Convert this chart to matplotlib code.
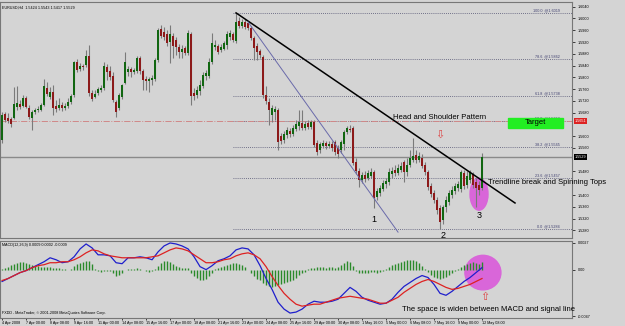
import matplotlib
matplotlib.use("Agg")
import matplotlib.pyplot as plt
from matplotlib.patches import Rectangle, Ellipse
import numpy as np

plt.rcParams['font.family'] = ['Liberation Sans', 'DejaVu Sans']

# EURUSD H4 candles
opens = [1.5587, 1.5675, 1.5662, 1.5658, 1.5662, 1.5699, 1.5709, 1.5703, 1.5730, 1.5696,
         1.5662, 1.5682, 1.5689, 1.5689, 1.5706, 1.5764, 1.5733, 1.5750, 1.5703, 1.5696,
         1.5706, 1.5696, 1.5703, 1.5716, 1.5740, 1.5852, 1.5828, 1.5839, 1.5842, 1.5873,
         1.5747, 1.5733, 1.5747, 1.5757, 1.5764, 1.5835, 1.5822, 1.5805, 1.5716, 1.5696,
         1.5733, 1.5781, 1.5818, 1.5828, 1.5818, 1.5822, 1.5866, 1.5822, 1.5794, 1.5788,
         1.5791, 1.5794, 1.5859, 1.5964, 1.5954, 1.5947, 1.5920, 1.5941, 1.5927, 1.5903,
         1.5886, 1.5900, 1.5883, 1.5947, 1.5747, 1.5740, 1.5754, 1.5771, 1.5805, 1.5805,
         1.5852, 1.5903, 1.5907, 1.5893, 1.5896, 1.5910, 1.5937, 1.5947, 1.5924, 1.5992,
         1.5975, 1.5988, 1.5985, 1.5968, 1.5934, 1.5907, 1.5890, 1.5869, 1.5740, 1.5716,
         1.5672, 1.5682, 1.5689, 1.5601, 1.5587, 1.5604, 1.5618, 1.5607, 1.5624, 1.5635,
         1.5645, 1.5628, 1.5645, 1.5631, 1.5648, 1.5577, 1.5553, 1.5567, 1.5577, 1.5567,
         1.5573, 1.5580, 1.5560, 1.5553, 1.5573, 1.5614, 1.5624, 1.5628, 1.5512, 1.5482,
         1.5451, 1.5468, 1.5458, 1.5465, 1.5478, 1.5393, 1.5407, 1.5420, 1.5437, 1.5444,
         1.5471, 1.5485, 1.5475, 1.5485, 1.5512, 1.5478, 1.5502, 1.5519, 1.5536, 1.5519,
         1.5526, 1.5502, 1.5478, 1.5431, 1.5407, 1.5383, 1.5356, 1.5315, 1.5359, 1.5376,
         1.5400, 1.5414, 1.5424, 1.5420, 1.5475, 1.5434, 1.5451, 1.5471, 1.5444, 1.5434,
         1.5424]
highs = [1.5682, 1.5682, 1.5679, 1.5665, 1.5767, 1.5771, 1.5723, 1.5740, 1.5737, 1.5706,
         1.5689, 1.5696, 1.5703, 1.5713, 1.5794, 1.5784, 1.5767, 1.5774, 1.5723, 1.5730,
         1.5716, 1.5713, 1.5730, 1.5743, 1.5856, 1.5862, 1.5849, 1.5845, 1.5893, 1.5910,
         1.5757, 1.5757, 1.5767, 1.5774, 1.5852, 1.5845, 1.5839, 1.5818, 1.5723, 1.5747,
         1.5777, 1.5886, 1.5839, 1.5835, 1.5832, 1.5873, 1.5873, 1.5828, 1.5805, 1.5801,
         1.5808, 1.5866, 1.5968, 1.5978, 1.5971, 1.5961, 1.5978, 1.5951, 1.5937, 1.5913,
         1.5910, 1.5907, 1.5961, 1.5954, 1.5764, 1.5771, 1.5791, 1.5818, 1.5825, 1.5866,
         1.5951, 1.5927, 1.5913, 1.5913, 1.5924, 1.5958, 1.5961, 1.5954, 1.6019, 1.6005,
         1.5998, 1.5998, 1.5992, 1.5975, 1.5941, 1.5917, 1.5896, 1.5876, 1.5771, 1.5730,
         1.5706, 1.5703, 1.5696, 1.5611, 1.5618, 1.5631, 1.5628, 1.5638, 1.5655, 1.5689,
         1.5689, 1.5652, 1.5655, 1.5655, 1.5655, 1.5587, 1.5580, 1.5587, 1.5584, 1.5584,
         1.5584, 1.5587, 1.5570, 1.5587, 1.5621, 1.5635, 1.5638, 1.5635, 1.5526, 1.5492,
         1.5478, 1.5482, 1.5485, 1.5492, 1.5485, 1.5424, 1.5434, 1.5451, 1.5458, 1.5492,
         1.5495, 1.5502, 1.5505, 1.5512, 1.5519, 1.5526, 1.5553, 1.5594, 1.5553, 1.5546,
         1.5539, 1.5512, 1.5485, 1.5441, 1.5417, 1.5393, 1.5366, 1.5366, 1.5397, 1.5417,
         1.5431, 1.5441, 1.5448, 1.5485, 1.5485, 1.5482, 1.5485, 1.5478, 1.5458, 1.5448,
         1.5543]
lows = [1.5577, 1.5648, 1.5645, 1.5631, 1.5658, 1.5689, 1.5692, 1.5699, 1.5696, 1.5658,
        1.5621, 1.5675, 1.5682, 1.5686, 1.5703, 1.5737, 1.5726, 1.5672, 1.5682, 1.5689,
        1.5686, 1.5689, 1.5696, 1.5709, 1.5733, 1.5818, 1.5822, 1.5825, 1.5835, 1.5737,
        1.5720, 1.5730, 1.5740, 1.5750, 1.5757, 1.5791, 1.5791, 1.5716, 1.5665, 1.5689,
        1.5726, 1.5777, 1.5805, 1.5801, 1.5811, 1.5815, 1.5811, 1.5757, 1.5757, 1.5750,
        1.5774, 1.5788, 1.5852, 1.5934, 1.5927, 1.5907, 1.5849, 1.5866, 1.5876, 1.5866,
        1.5866, 1.5876, 1.5876, 1.5706, 1.5723, 1.5730, 1.5740, 1.5764, 1.5791, 1.5798,
        1.5845, 1.5893, 1.5879, 1.5886, 1.5893, 1.5896, 1.5927, 1.5920, 1.5917, 1.5968,
        1.5968, 1.5964, 1.5961, 1.5927, 1.5859, 1.5859, 1.5866, 1.5730, 1.5709, 1.5638,
        1.5648, 1.5655, 1.5553, 1.5573, 1.5577, 1.5594, 1.5597, 1.5601, 1.5618, 1.5621,
        1.5621, 1.5621, 1.5624, 1.5624, 1.5563, 1.5536, 1.5543, 1.5560, 1.5556, 1.5560,
        1.5550, 1.5536, 1.5526, 1.5543, 1.5553, 1.5607, 1.5614, 1.5502, 1.5471, 1.5427,
        1.5441, 1.5444, 1.5451, 1.5458, 1.5356, 1.5383, 1.5397, 1.5414, 1.5424, 1.5434,
        1.5458, 1.5465, 1.5468, 1.5478, 1.5444, 1.5465, 1.5495, 1.5512, 1.5509, 1.5512,
        1.5492, 1.5468, 1.5417, 1.5393, 1.5373, 1.5335, 1.5284, 1.5301, 1.5342, 1.5366,
        1.5390, 1.5403, 1.5414, 1.5410, 1.5420, 1.5424, 1.5441, 1.5424, 1.5359, 1.5400,
        1.5417]
closes = [1.5672, 1.5655, 1.5652, 1.5641, 1.5709, 1.5713, 1.5699, 1.5730, 1.5699, 1.5665,
          1.5682, 1.5689, 1.5692, 1.5706, 1.5771, 1.5743, 1.5750, 1.5696, 1.5692, 1.5706,
          1.5696, 1.5703, 1.5716, 1.5737, 1.5852, 1.5825, 1.5839, 1.5835, 1.5873, 1.5747,
          1.5726, 1.5743, 1.5760, 1.5764, 1.5839, 1.5818, 1.5801, 1.5723, 1.5682, 1.5740,
          1.5774, 1.5852, 1.5828, 1.5818, 1.5825, 1.5866, 1.5822, 1.5791, 1.5788, 1.5794,
          1.5798, 1.5859, 1.5961, 1.5941, 1.5937, 1.5917, 1.5947, 1.5907, 1.5903, 1.5886,
          1.5896, 1.5883, 1.5951, 1.5737, 1.5737, 1.5757, 1.5774, 1.5808, 1.5815, 1.5852,
          1.5917, 1.5910, 1.5886, 1.5903, 1.5917, 1.5947, 1.5951, 1.5927, 1.5988, 1.5975,
          1.5988, 1.5971, 1.5968, 1.5934, 1.5900, 1.5886, 1.5876, 1.5740, 1.5720, 1.5689,
          1.5696, 1.5692, 1.5580, 1.5584, 1.5607, 1.5621, 1.5607, 1.5628, 1.5641, 1.5648,
          1.5628, 1.5641, 1.5631, 1.5648, 1.5570, 1.5546, 1.5573, 1.5577, 1.5567, 1.5573,
          1.5560, 1.5546, 1.5539, 1.5580, 1.5614, 1.5628, 1.5621, 1.5509, 1.5482, 1.5451,
          1.5468, 1.5454, 1.5475, 1.5478, 1.5390, 1.5414, 1.5424, 1.5441, 1.5448, 1.5478,
          1.5482, 1.5475, 1.5492, 1.5499, 1.5478, 1.5502, 1.5526, 1.5533, 1.5519, 1.5533,
          1.5499, 1.5478, 1.5427, 1.5403, 1.5383, 1.5349, 1.5308, 1.5359, 1.5383, 1.5407,
          1.5417, 1.5431, 1.5437, 1.5478, 1.5431, 1.5465, 1.5478, 1.5434, 1.5424, 1.5417,
          1.5529]

# MACD(12,26,9) read every second bar
macd_line = [-0.0012, -0.0009, -0.0006, -0.0003, -0.0001, 0.0002, 0.0005, 0.0008, 0.0012, 0.0010,
             0.0007, 0.0008, 0.0013, 0.0021, 0.0026, 0.0022, 0.0015, 0.0015, 0.0014, 0.0007,
             0.0006, 0.0012, 0.0012, 0.0013, 0.0012, 0.0010, 0.0018, 0.0024, 0.0027, 0.0026,
             0.0024, 0.0021, 0.0013, 0.0003, 0.0000, 0.0004, 0.0009, 0.0011, 0.0014, 0.0020,
             0.0022, 0.0021, 0.0015, 0.0004, -0.0009, -0.0020, -0.0033, -0.0040, -0.0044, -0.0043,
             -0.0040, -0.0035, -0.0032, -0.0033, -0.0033, -0.0032, -0.0030, -0.0024, -0.0018, -0.0022,
             -0.0028, -0.0031, -0.0033, -0.0035, -0.0034, -0.0030, -0.0023, -0.0017, -0.0013, -0.0009,
             -0.0006, -0.0008, -0.0015, -0.0024, -0.0026, -0.0022, -0.0017, -0.0012, -0.0008, -0.0003,
             0.0002]
signal_line = [-0.0011, -0.0009, -0.0006, -0.0003, -0.0001, 0.0002, 0.0004, 0.0005, 0.0007, 0.0007,
               0.0008, 0.0008, 0.0010, 0.0013, 0.0017, 0.0020, 0.0019, 0.0016, 0.0014, 0.0013,
               0.0012, 0.0012, 0.0012, 0.0012, 0.0012, 0.0013, 0.0014, 0.0017, 0.0020, 0.0022,
               0.0021, 0.0019, 0.0015, 0.0011, 0.0007, 0.0007, 0.0008, 0.0010, 0.0011, 0.0014,
               0.0016, 0.0017, 0.0015, 0.0011, 0.0003, -0.0007, -0.0016, -0.0024, -0.0030, -0.0035,
               -0.0037, -0.0036, -0.0035, -0.0035, -0.0033, -0.0031, -0.0029, -0.0028, -0.0027, -0.0028,
               -0.0029, -0.0030, -0.0032, -0.0034, -0.0034, -0.0031, -0.0028, -0.0023, -0.0019, -0.0015,
               -0.0012, -0.0010, -0.0012, -0.0015, -0.0018, -0.0020, -0.0019, -0.0017, -0.0015, -0.0012,
               -0.0009]
osma = [0.0001, 0.0002, 0.0003, 0.0005, 0.0006, 0.0007, 0.0008, 0.0008, 0.0007, 0.0006,
        0.0005, 0.0004, 0.0004, 0.0003, 0.0003, 0.0003, 0.0003, 0.0002, 0.0002, 0.0002,
        0.0001, 0.0001, 0.0000, 0.0001, 0.0004, 0.0006, 0.0007, 0.0008, 0.0009, 0.0009,
        0.0006, 0.0001, -0.0001, -0.0002, -0.0001, -0.0001, -0.0001, -0.0003, -0.0006, -0.0005,
        -0.0003, 0.0000, 0.0001, 0.0001, 0.0001, 0.0002, 0.0001, 0.0000, -0.0001, -0.0002,
        -0.0001, 0.0001, 0.0004, 0.0007, 0.0009, 0.0009, 0.0008, 0.0006, 0.0004, 0.0003,
        0.0002, 0.0002, 0.0002, -0.0003, -0.0006, -0.0008, -0.0010, -0.0010, -0.0009, -0.0006,
        -0.0003, 0.0001, 0.0002, 0.0003, 0.0004, 0.0005, 0.0006, 0.0007, 0.0007, 0.0006,
        0.0005, 0.0003, 0.0000, -0.0003, -0.0006, -0.0009, -0.0011, -0.0014, -0.0016, -0.0017,
        -0.0018, -0.0017, -0.0016, -0.0015, -0.0014, -0.0013, -0.0012, -0.0010, -0.0008, -0.0005,
        -0.0003, -0.0002, 0.0001, 0.0002, 0.0002, 0.0003, 0.0003, 0.0003, 0.0002, 0.0003,
        0.0003, 0.0002, 0.0003, 0.0005, 0.0007, 0.0009, 0.0008, 0.0004, -0.0001, -0.0003,
        -0.0003, -0.0003, -0.0003, -0.0002, -0.0002, -0.0003, -0.0002, -0.0001, 0.0001, 0.0003,
        0.0005, 0.0006, 0.0007, 0.0008, 0.0009, 0.0010, 0.0010, 0.0010, 0.0009, 0.0007,
        0.0004, 0.0001, -0.0002, -0.0005, -0.0007, -0.0008, -0.0009, -0.0008, -0.0007, -0.0005,
        -0.0003, -0.0001, 0.0001, 0.0003, 0.0005, 0.0006, 0.0007, 0.0008, 0.0007, 0.0006,
        0.0008]

date_labels = ["4 Apr 2008", "7 Apr 00:00", "8 Apr 08:00", "9 Apr 16:00", "11 Apr 00:00",
               "14 Apr 08:00", "15 Apr 16:00", "17 Apr 00:00", "18 Apr 08:00", "21 Apr 16:00",
               "23 Apr 00:00", "24 Apr 08:00", "25 Apr 16:00", "29 Apr 00:00", "30 Apr 08:00",
               "1 May 16:00", "5 May 00:00", "6 May 08:00", "7 May 16:00", "9 May 00:00",
               "12 May 08:00"]

fib_levels = [0.0, 23.6, 38.2, 50.0, 61.8, 78.6, 100.0]
fib_high = 1.6019
fib_low = 1.5284
target_price = 1.5651

bg = "#d4d4d4"
n = len(closes)
x = np.arange(n)
xmin, xmax = -0.7, 190
note = 5.5
tiny = 2.7

fig = plt.figure(figsize=(6.25, 3.26), dpi=100, facecolor=bg)
ax = fig.add_axes([0, 88 / 326, 572 / 625, 236 / 326], facecolor=bg)
ax2 = fig.add_axes([0, 8 / 326, 572 / 625, 77 / 326], facecolor=bg)

# ---- price panel ----
o = np.array(opens); c = np.array(closes)
up = c >= o
ax.vlines(x, lows, highs, color="#7a7a7a", lw=0.8, zorder=2)
body_lo = np.minimum(o, c)
body_h = np.maximum(np.abs(c - o), 0.00015)
ax.bar(x[up], body_h[up], bottom=body_lo[up], width=0.62, color="#116611", lw=0, zorder=3)
ax.bar(x[~up], body_h[~up], bottom=body_lo[~up], width=0.62, color="#8c1a1a", lw=0, zorder=3)

# fibonacci levels
for lv in fib_levels:
    p = fib_low + lv / 100 * (fib_high - fib_low)
    ax.hlines(p, 77, xmax, color="#505070", lw=0.6, linestyles=(0, (1, 1.5)), zorder=1)
    ax.text(186, p + 0.0002, f"{lv:.1f}  @{p:.4f}", fontsize=tiny, color="#404070",
            ha="right", va="bottom")

ax.axhline(target_price, color="#d08888", lw=0.7, ls="-.", zorder=1)
ax.axhline(closes[-1], color="#8a8a8a", lw=1.0, zorder=1)

# trend lines
ax.plot([78, 171], [1.6019, 1.5373], color="black", lw=1.1, zorder=4)
ax.plot([82, 132], [1.5988, 1.5274], color="#6a6aaa", lw=0.7, zorder=4)

ax.text(146, 1.5663, "Head and Shoulder Pattern", fontsize=note, ha="center", va="center")
ax.text(146, 1.5604, "\u21e9", fontsize=8, color="#dd4444", ha="center", va="center")
ax.add_patch(Rectangle((168.7, 1.5628), 18.3, 0.0034, color="#22ee22", zorder=4))
ax.text(177.8, 1.5645, "Target", fontsize=note, ha="center", va="center", zorder=5)
ax.add_patch(Ellipse((159, 1.5403), 6, 0.0109, color="#d966d9", zorder=1))
ax.text(162, 1.5444, "Trendline break and Spinning Tops", fontsize=note, ha="left",
        va="center", clip_on=False, zorder=6)
ax.text(124, 1.5318, "1", fontsize=6.5, ha="center", va="center")
ax.text(147, 1.5264, "2", fontsize=6.5, ha="center", va="center")
ax.text(159, 1.5329, "3", fontsize=6.5, ha="center", va="center")
ax.text(0.003, 0.985, "EURUSD,H4  1.5424 1.5543 1.5417 1.5529", transform=ax.transAxes,
        fontsize=tiny, ha="left", va="top")

ax.set_xlim(xmin, xmax)
ax.set_ylim(1.5254, 1.6056)
ax.yaxis.tick_right()
# skip tick labels hidden behind the price boxes and the trendline note
ticks = [t for t in np.arange(1.5280, 1.6041, 0.0040) if abs(t - target_price) > 0.0015
         and abs(t - closes[-1]) > 0.0015 and abs(t - 1.5444) > 0.0015]
ax.set_yticks(ticks)
ax.yaxis.set_major_formatter(plt.FormatStrFormatter("%.4f"))
ax.tick_params(axis="y", labelsize=tiny, length=2, width=0.5, pad=2)
ax.set_xticks([])
for lab_p, fc in [(target_price, "#dd2222"), (closes[-1], "black")]:
    ax.text(1.004, lab_p, f"{lab_p:.4f}", transform=ax.get_yaxis_transform(), fontsize=tiny,
            color="white", ha="left", va="center",
            bbox=dict(boxstyle="square,pad=0.2", fc=fc, ec="none"), clip_on=False)

# ---- MACD panel ----
mx = np.arange(0, n, 2)
ax2.vlines(x, 0, osma, color="#2a8a2a", lw=1.0, zorder=2)
ax2.add_patch(Ellipse((160.3, -0.0003), 12, 0.0035, color="#d966d9", zorder=1))
ax2.plot(mx, macd_line, color="#1f1fcc", lw=0.9, zorder=3)
ax2.plot(mx, signal_line, color="#dd2222", lw=0.9, zorder=3)
ax2.text(161, -0.0028, "\u21e7", fontsize=8, color="#dd4444", ha="center", va="center")
ax2.text(162, -0.0040, "The space is widen between MACD and signal line", fontsize=note,
         ha="center", va="center", clip_on=False)
ax2.text(0.003, 0.97, "MACD(12,26,9) 0.0009 0.0002 -0.0009", transform=ax2.transAxes,
         fontsize=tiny, ha="left", va="top")
ax2.text(0.003, 0.04, "FXDD - MetaTrader, \u00a9 2001-2008 MetaQuotes Software Corp.",
         transform=ax2.transAxes, fontsize=tiny, ha="left", va="bottom")
ax2.set_xlim(xmin, xmax)
ax2.set_ylim(-0.0049, 0.0029)
ax2.yaxis.tick_right()
ax2.set_yticks([0.0027, 0.0, -0.0047])
ax2.set_yticklabels(["0.0027", "0.00", "-0.0047"])
ax2.tick_params(axis="y", labelsize=tiny, length=2, width=0.5, pad=2)
ax2.set_xticks(np.arange(0, n, 8))
ax2.set_xticklabels(date_labels, fontsize=tiny, ha="left")
ax2.tick_params(axis="x", length=1.5, width=0.5, pad=0.5)

for a in (ax, ax2):
    for s in a.spines.values():
        s.set_color("#777777")
        s.set_linewidth(0.8)

fig.savefig("out.png", dpi=100, facecolor=bg)
